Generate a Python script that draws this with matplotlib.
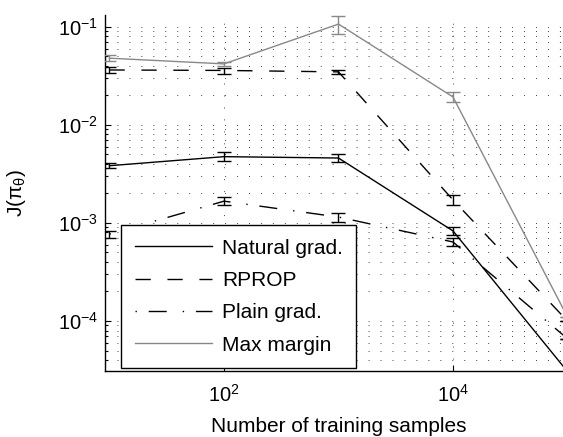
import matplotlib
matplotlib.use("Agg")
import matplotlib.pyplot as plt
from matplotlib.ticker import LogLocator, NullLocator, FixedLocator

plt.rcParams["font.family"] = ["Liberation Sans", "DejaVu Sans"]
plt.rcParams["mathtext.fontset"] = "custom"
plt.rcParams["mathtext.rm"] = "Liberation Sans"
plt.rcParams["mathtext.it"] = "Liberation Sans:italic"

# data
n_samples = [10, 100, 1000, 10000, 100000]

natural = [3.84e-3, 4.75e-3, 4.6e-3, 8.3e-4, 3.05e-5]
natural_err = [2.2e-4, 5e-4, 4e-4, 7e-5, 0]

rprop = [3.64e-2, 3.6e-2, 3.48e-2, 1.72e-3, 1.0e-4]
rprop_err = [2.5e-3, 2.5e-3, 2e-3, 2e-4, 0]

plain = [7.7e-4, 1.67e-3, 1.15e-3, 6.4e-4, 6.6e-5]
plain_err = [6e-5, 1.6e-4, 1.2e-4, 6e-5, 0]

max_margin = [4.8e-2, 4.2e-2, 1.07e-1, 1.93e-2, 1.1e-4]
max_margin_err = [3.5e-3, 2.4e-3, 2.2e-2, 2.3e-3, 0]

labels = ["Natural grad.", "RPROP", "Plain grad.", "Max margin"]

W, H = 563, 437
fig = plt.figure(figsize=(W / 100, H / 100), dpi=100)
# axes runs a little past the right edge of the picture (cropped like the original)
ax = fig.add_axes([105 / W, 1 - 371 / H, 467 / W, 356 / H])

series = [
    (natural, natural_err, "black", "-"),
    (rprop, rprop_err, "black", (0, (11, 12))),
    (plain, plain_err, "black", (0, (1, 8.5, 13, 11.5))),
    (max_margin, max_margin_err, "#888888", "-"),
]

for (vals, errs, col, ls), lab in zip(series, labels):
    ax.errorbar(n_samples, vals, yerr=errs, fmt="none", ecolor=col,
                elinewidth=1.0, capsize=5, capthick=1.0, zorder=3)
    ax.plot(n_samples, vals, color=col, linestyle=ls, linewidth=1.0,
            label=lab, zorder=3)

ax.set_xscale("log")
ax.set_yscale("log")
ax.set_xlim(9.14, 1.095e5)
ax.set_ylim(3.09e-5, 0.1324)

ax.xaxis.set_major_locator(FixedLocator([1e2, 1e4]))
ax.xaxis.set_minor_locator(NullLocator())
ax.yaxis.set_major_locator(LogLocator(base=10))
ax.yaxis.set_minor_locator(LogLocator(base=10, subs=range(2, 10)))

dots = (0, (1, 11.3))
ax.set_axisbelow(True)
ax.grid(True, which="major", axis="both", color="#444444", linestyle=dots, linewidth=0.7)
ax.grid(True, which="minor", axis="y", color="#444444", linestyle=dots, linewidth=0.7)

for side in ("top", "right"):
    ax.spines[side].set_visible(False)
ax.spines["left"].set_linewidth(1.0)
ax.spines["bottom"].set_linewidth(1.0)

ax.tick_params(which="both", direction="in", top=False, right=False, width=0.8)
ax.tick_params(which="major", length=4.5, labelsize=14.5)
ax.tick_params(which="minor", length=2.2)
ax.tick_params(axis="x", which="major", pad=9)
ax.tick_params(axis="y", which="major", pad=5)

ax.set_xlabel("Number of training samples", fontsize=15, labelpad=8)
ax.set_ylabel(r"J($\mathrm{\pi}_{\mathrm{\theta}}$)", fontsize=15)
ax.yaxis.set_label_coords(-0.165, 0.5)

leg = ax.legend(loc="upper left", bbox_to_anchor=(121 / W, 1 - 225 / H),
                bbox_transform=fig.transFigure, frameon=True, fancybox=False,
                edgecolor="black", framealpha=1, borderaxespad=0,
                handlelength=3.7, handletextpad=0.5, labelspacing=0.64,
                borderpad=0.65, fontsize=15)
leg.get_frame().set_linewidth(1.0)

fig.savefig("out.png", dpi=100)
